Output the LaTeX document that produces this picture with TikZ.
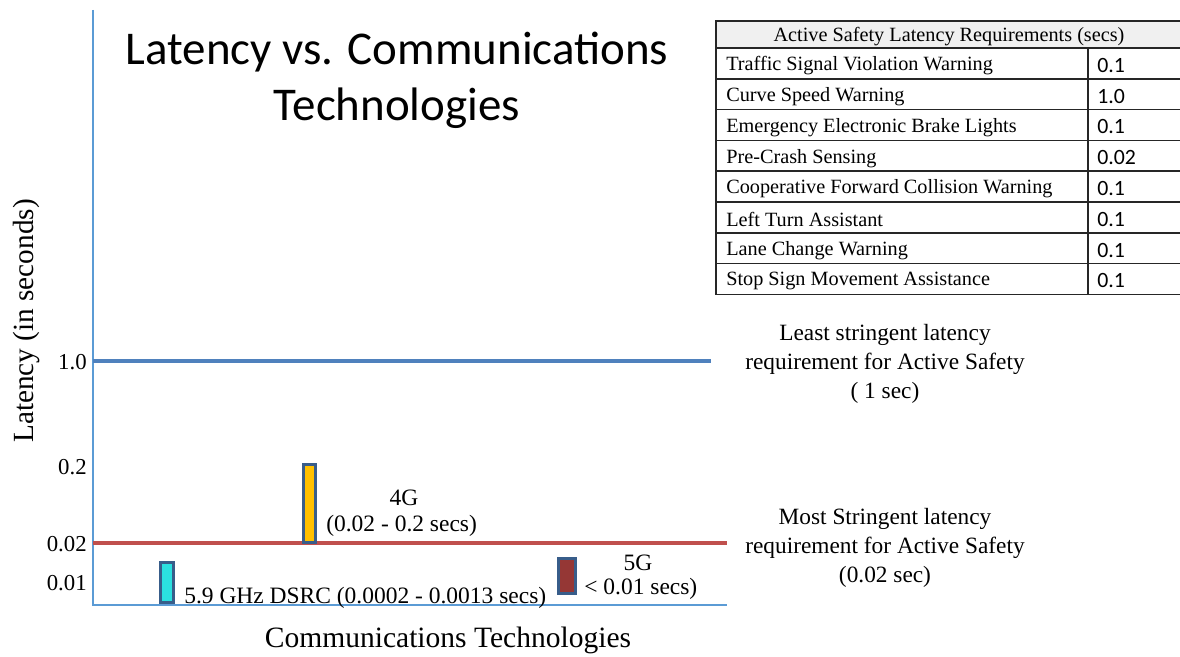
\documentclass[tikz,border=0pt]{standalone}
\usepackage{fontspec}
\setmainfont{Liberation Serif}
\newfontfamily\calfont{Carlito}
\definecolor{axisblue}{HTML}{5B9BD5}
\definecolor{leastblue}{HTML}{4F81BD}
\definecolor{mostred}{HTML}{C0504D}
\definecolor{baredge}{HTML}{385D8A}
\definecolor{dsrccyan}{HTML}{2BE0E0}
\definecolor{lteyellow}{HTML}{FFC000}
\definecolor{nrred}{HTML}{953735}
\definecolor{headgray}{HTML}{F0F0F0}
\newcommand{\fsz}[2]{\fontsize{#1}{#2}\selectfont}

\begin{document}
\begin{tikzpicture}[x=0.025cm,y=-0.025cm]
	\tikzset{bar/.style={draw=baredge,line width=2.3pt,fill=#1,inner sep=0pt}}
	\tikzset{ticklabel/.style={anchor=east,inner sep=0pt,font=\fsz{16.2}{19}}}
	\tikzset{barlabel/.style={inner sep=0pt,font=\fsz{16.7}{20}}}
	\tikzset{note/.style={align=center,inner sep=0pt,font=\fsz{16.6}{20.6}}}
	\tikzset{cell/.style={anchor=west,inner sep=0pt,font=\fsz{14.4}{17}}}
	\tikzset{grid line/.style={draw=black!85,line width=1pt}}
	
	\useasboundingbox (0,0) rectangle (1180,657);
	
	\node[align=center,font=\calfont\fsz{33.4}{39.7}] (title) at (397,80) {Latency vs. Communications\\Technologies};
	
	% requirements table
	\fill[headgray] (716,21) rectangle (1182,48);
	\draw[grid line] (716,21) rectangle (1182,294.4);
	\foreach \k in {0,...,7} \draw[grid line] (716,48+30.8*\k) -- (1182,48+30.8*\k);
	\draw[grid line] (1088,48) -- (1088,294.4);
	\node[inner sep=0pt,font=\fsz{14.4}{17}] (tablehead) at (949,37) {Active Safety Latency Requirements (secs)};
	\foreach \req/\val [count=\i] in {Traffic Signal Violation Warning/0.1, Curve Speed Warning/1.0, Emergency Electronic Brake Lights/0.1, Pre-Crash Sensing/0.02, Cooperative Forward Collision Warning/0.1, Left Turn Assistant/0.1, Lane Change Warning/0.1, Stop Sign Movement Assistance/0.1} {
		\node[cell] (req\i) at (726,35+30.8*\i) {\req};
		\node[cell,font=\calfont\fsz{15.5}{17}] (val\i) at (1097,34.5+30.8*\i) {\val};
	}
	
	% axes
	\coordinate (ytop) at (93,10);
	\coordinate (origin) at (93,605);
	\coordinate (xend) at (727,605);
	\draw[axisblue,line width=1pt] (ytop) -- (origin) -- (xend);
	\node[rotate=90,inner sep=0pt,font=\fsz{20.8}{24}] (ylabel) at (27,321) {Latency (in seconds)};
	\node[inner sep=0pt,font=\fsz{21}{24}] (xlabel) at (448,640) {Communications Technologies};
	
	\node[ticklabel] (tick10) at (87,362) {1.0};
	\node[ticklabel] (tick02) at (87,467) {0.2};
	\node[ticklabel] (tick002) at (87,544) {0.02};
	\node[ticklabel] (tick001) at (87,583) {0.01};
	
	% requirement lines
	\coordinate (least0) at (93,361);
	\coordinate (least1) at (711,361);
	\coordinate (most0) at (93,543);
	\coordinate (most1) at (727,543);
	\draw[leastblue,line width=2.6pt] (least0) -- (least1);
	\draw[mostred,line width=2.6pt] (most0) -- (most1);
	\node[note] (leastnote) at (885,364) {Least stringent latency\\requirement for Active Safety\\( 1 sec)};
	\node[note] (mostnote) at (885,548) {Most Stringent latency\\requirement for Active Safety\\(0.02 sec)};
	
	% technologies
	\node[bar=dsrccyan,minimum width=0.33cm,minimum height=1cm] (dsrc) at (167,582.5) {};
	\node[bar=lteyellow,minimum width=0.31cm,minimum height=1.95cm] (lte) at (309.5,503.5) {};
	\node[bar=nrred,minimum width=0.43cm,minimum height=0.88cm] (nr) at (567,576) {};
	\node[barlabel,anchor=west] (dsrclabel) at (184,598) {5.9 GHz DSRC (0.0002 - 0.0013 secs)};
	\node[barlabel] (ltename) at (404,498) {4G};
	\node[barlabel,anchor=west] (lterange) at (326,526) {(0.02 - 0.2 secs)};
	\node[barlabel] (nrname) at (638,563) {5G};
	\node[barlabel,anchor=west] (nrrange) at (584,589) {< 0.01 secs)};
\end{tikzpicture}
\end{document}
